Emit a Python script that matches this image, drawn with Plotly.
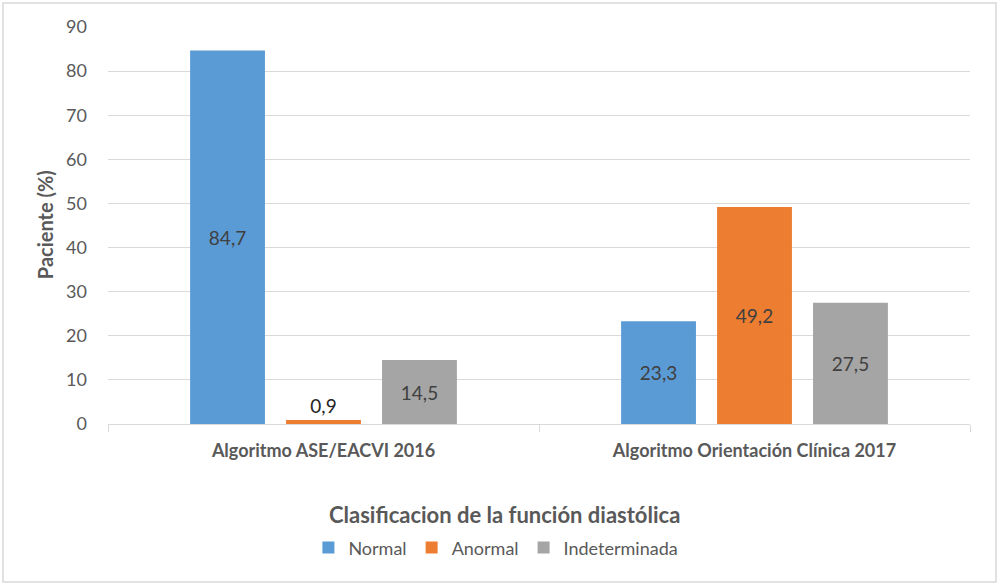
import plotly.graph_objects as go

categories = ["Algoritmo ASE/EACVI 2016", "Algoritmo Orientación Clínica 2017"]
series_names = ["Normal", "Anormal", "Indeterminada"]
normal = [84.7, 23.3]
anormal = [0.9, 49.2]
indeterminada = [14.5, 27.5]
y_ticks = [0, 10, 20, 30, 40, 50, 60, 70, 80, 90]

colors = ["#5B9BD5", "#ED7D31", "#A5A5A5"]
FONT = "Lato, 'Open Sans', sans-serif"
TXT = "#404040"

fig = go.Figure()
for name, vals, col in zip(series_names, [normal, anormal, indeterminada], colors):
    pos = ["inside" if v > 5 else "outside" for v in vals]
    fig.add_trace(go.Bar(
        x=categories, y=vals, name=name,
        marker=dict(color=col, line=dict(color=col, width=0)),
        texttemplate="%{y:.1f}", textposition=pos,
        insidetextanchor="middle",
        textfont=dict(family=FONT, size=19, color=TXT),
        insidetextfont=dict(family=FONT, size=19, color=TXT),
        outsidetextfont=dict(family=FONT, size=19, color="#262626"),
        cliponaxis=False,
    ))

fig.update_layout(
    width=1000, height=586,
    margin=dict(l=108, r=30, t=27, b=162),
    paper_bgcolor="white", plot_bgcolor="white",
    separators=",.",
    barmode="group", bargap=0.332, bargroupgap=0.22,
    font=dict(family=FONT, color="#595959"),
    showlegend=True,
    legend=dict(orientation="h", x=0.45, xanchor="center", y=-0.312, yanchor="middle",
                font=dict(family=FONT, size=18, color="#595959"),
                itemwidth=30, traceorder="normal"),
    xaxis=dict(
        tickmode="array", tickvals=categories,
        ticktext=["<b>" + c + "</b>" for c in categories],
        tickfont=dict(family=FONT, size=18, color="#595959"),
        showgrid=False, showline=True, linecolor="#D9D9D9", linewidth=1,
        ticks="outside", tickson="boundaries", ticklen=7, tickcolor="#D9D9D9",
        zeroline=False, ticklabelstandoff=10,
    ),
    yaxis=dict(
        range=[0, 90], tickmode="array", tickvals=y_ticks,
        tickfont=dict(family=FONT, size=18, color="#595959"),
        showgrid=True, gridcolor="#D9D9D9", gridwidth=1,
        zeroline=False, showline=False, ticks="", ticklabelstandoff=20,
    ),
)

fig.add_annotation(text="<b>Paciente (%)</b>", xref="paper", yref="paper",
                   x=-0.073, y=0.501, textangle=-90, showarrow=False,
                   xanchor="center", yanchor="middle",
                   font=dict(family=FONT, size=20, color="#595959"))
fig.add_annotation(text="<b>Clasificacion de la función diastólica</b>", xref="paper", yref="paper",
                   x=0.46, y=-0.229, showarrow=False, xanchor="center", yanchor="middle",
                   font=dict(family=FONT, size=22, color="#595959"))

fig.add_shape(type="rect", xref="paper", yref="paper",
              x0=-0.1218, x1=1.0302, y0=-0.398, y1=1.0605,
              line=dict(color="#D9D9D9", width=1.5), fillcolor="rgba(0,0,0,0)", layer="below")

fig.write_html("out.html")
